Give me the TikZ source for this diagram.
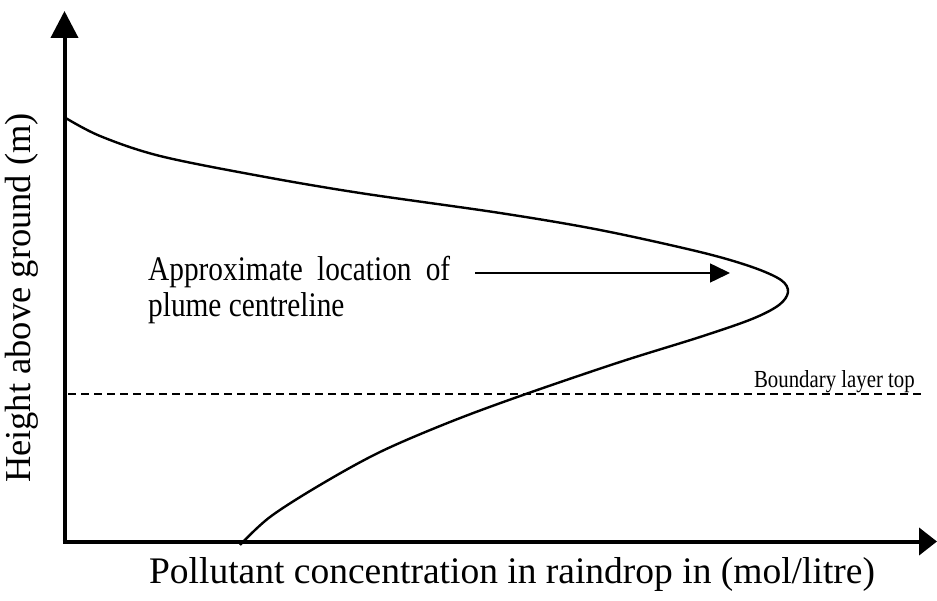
\documentclass[tikz,border=0pt]{standalone}
\usepackage{fontspec}
\setmainfont{Liberation Serif}
\newfontfamily\narrowserif[FakeStretch=0.85]{Liberation Serif}
\usetikzlibrary{arrows.meta}
\tikzset{
  axis/.style={line width=4pt},
  curveline/.style={line width=2.4pt, line join=round},
  bltop/.style={line width=1.3pt, dash pattern=on 8pt off 5pt},
  pointer/.style={line width=1.5pt, -{Triangle[length=20pt,width=19pt]}},
  ylabelstyle/.style={inner sep=0pt, font=\fontsize{36.5}{42}\selectfont},
  xlabelstyle/.style={inner sep=0pt, font=\fontsize{37.5}{42}\selectfont},
  innerlabel/.style={inner sep=0pt, font=\narrowserif\fontsize{34.5}{40}\selectfont},
  smalllabel/.style={inner sep=0pt, font=\narrowserif\fontsize{24.5}{28}\selectfont}
}
\begin{document}
\begin{tikzpicture}[x=1pt,y=-1pt]
\useasboundingbox (0,0) rectangle (937,601);
% axes
\coordinate (origin) at (64.5,543);
\coordinate (ytop) at (64.5,11);
\coordinate (xend) at (937,541.5);
\coordinate (xstart) at (62.5,541.5);
\draw[axis, -{Triangle[length=27pt,width=27pt]}] (origin) -- (ytop);
\draw[axis, -{Triangle[length=18pt,width=27pt]}] (xstart) -- (xend);
% boundary layer top
\coordinate (bl1) at (68,394);
\coordinate (bl2) at (922,394);
\draw[bltop] (bl1) -- (bl2);
\node[smalllabel, anchor=base east] (bltxt) at (915,388) {Boundary layer top};
% concentration profile
\draw[curveline] plot[smooth, tension=0.55] coordinates {
  (64,117) (100,136) (160,156) (260,176) (360,193) (500,213) (600,230)
  (700,252) (752,267) (781,280) (788,292) (779,305) (752,319) (700,337) (620,362)
  (523,395) (450,422) (380,452) (320,485) (270,517) (240,545)};
% label and pointer
\node[innerlabel, anchor=base west] (plume1) at (148,281)
  {\makebox[302pt][s]{Approximate location of}};
\node[innerlabel, anchor=base west] (plume2) at (148,317) {plume centreline};
\coordinate (p1) at (475,273);
\coordinate (p2) at (730,273);
\draw[pointer] (p1) -- (p2);
% axis labels
\node[ylabelstyle, rotate=90] (ylab) at (22,298) {Height above ground (m)};
\node[xlabelstyle, anchor=base] (xlab) at (512,583) {Pollutant concentration in raindrop in (mol/litre)};
\end{tikzpicture}
\end{document}
